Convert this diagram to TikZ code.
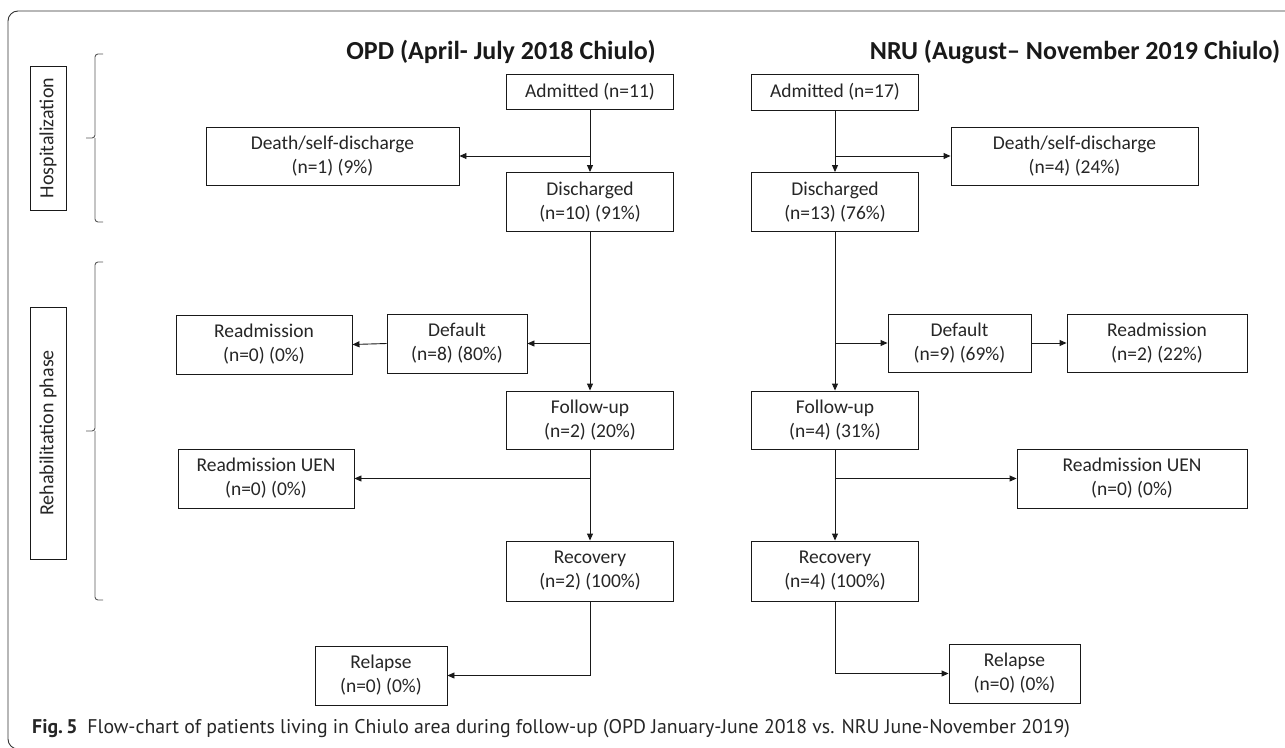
\documentclass[tikz,border=0pt]{standalone}
\usepackage{fontspec}
\setmainfont{Carlito}
\newfontfamily\capfont{PT Sans}
\usetikzlibrary{arrows.meta}
\tikzset{
  box/.style={draw=black!90, line width=0.9pt, fill=white, align=center, inner sep=0pt,
    font=\fontsize{19.5}{24}\selectfont, text=black!85},
  conn/.style={line width=0.9pt, black!90, -{Triangle[length=7pt,width=6pt]}},
  bracestyle/.style={draw=black!65, line width=0.9pt, rounded corners=3pt},
  sidelabel/.style={draw=black!90, line width=0.9pt, inner sep=0pt, rotate=90,
    font=\fontsize{20}{22}\selectfont, text=black!85, minimum height=36pt},
  titlestyle/.style={font=\bfseries\fontsize{26}{30}\selectfont, text=black!90},
}
\begin{document}
\begin{tikzpicture}[x=1pt,y=-1pt]
\useasboundingbox (0,0) rectangle (1285,747);
% frame
\draw[line width=0.9pt, black!80, rounded corners=10pt] (8,11) rectangle (1300,749);

% titles
\node[titlestyle] (t1) at (501,52) {OPD (April- July 2018 Chiulo)};
\node[titlestyle] (t2) at (1075,52) {NRU (August– November 2019 Chiulo)};

% side labels
\node[sidelabel, minimum width=144pt] (hosp) at (48,138) {Hospitalization};
\node[sidelabel, minimum width=252pt] (rehab) at (48,433) {Rehabilitation phase};
\draw[bracestyle] (103,54) -- (95,54) -- (95,138) -- (86,138) (95,138) -- (95,222) -- (103,222);
\draw[bracestyle] (103,262) -- (95,262) -- (95,431) -- (86,431) (95,431) -- (95,600) -- (103,600);

% left column (OPD)
\node[box, minimum width=167pt, minimum height=35pt] (admL) at (590,92) {Admitted (n=11)};
\node[box, minimum width=253pt, minimum height=58pt] (deathL) at (332.5,156) {Death/self-discharge\\(n=1) (9\%)};
\node[box, minimum width=167pt, minimum height=59pt] (dischL) at (590,202) {Discharged\\(n=10) (91\%)};
\node[box, minimum width=140pt, minimum height=59pt] (defL) at (457,343.5) {Default\\(n=8) (80\%)};
\node[box, minimum width=176pt, minimum height=59pt] (readL) at (264,344.5) {Readmission\\(n=0) (0\%)};
\node[box, minimum width=167pt, minimum height=58pt] (folL) at (590,420) {Follow-up\\(n=2) (20\%)};
\node[box, minimum width=176pt, minimum height=59pt] (uenL) at (266,478.5) {Readmission UEN\\(n=0) (0\%)};
\node[box, minimum width=167pt, minimum height=60pt] (recL) at (590,571) {Recovery\\(n=2) (100\%)};
\node[box, minimum width=132pt, minimum height=59pt] (relL) at (381,675.5) {Relapse\\(n=0) (0\%)};

% right column (NRU)
\node[box, minimum width=167pt, minimum height=36pt] (admR) at (835,92) {Admitted (n=17)};
\node[box, minimum width=247pt, minimum height=58pt] (deathR) at (1074.5,156) {Death/self-discharge\\(n=4) (24\%)};
\node[box, minimum width=167pt, minimum height=59pt] (dischR) at (835,202) {Discharged\\(n=13) (76\%)};
\node[box, minimum width=143pt, minimum height=58pt] (defR) at (959.5,343) {Default\\(n=9) (69\%)};
\node[box, minimum width=180pt, minimum height=58pt] (readR) at (1157,343) {Readmission\\(n=2) (22\%)};
\node[box, minimum width=167pt, minimum height=58pt] (folR) at (835,420) {Follow-up\\(n=4) (31\%)};
\node[box, minimum width=230pt, minimum height=59pt] (uenR) at (1132,478.5) {Readmission UEN\\(n=0) (0\%)};
\node[box, minimum width=167pt, minimum height=60pt] (recR) at (835,571) {Recovery\\(n=4) (100\%)};
\node[box, minimum width=131pt, minimum height=59pt] (relR) at (1014.5,673.5) {Relapse\\(n=0) (0\%)};

% connectors left
\draw[conn] (admL.south) -- (dischL.north);
\draw[conn] (admL.south |- deathL.east) -- (deathL.east);
\draw[conn] (dischL.south) -- (folL.north);
\draw[conn] (dischL.south |- defL.east) -- (defL.east);
\draw[conn] (defL.west) -- (readL.east);
\draw[conn] (folL.south) -- (recL.north);
\draw[conn] (folL.south |- uenL.east) -- (uenL.east);
\draw[conn] (recL.south) |- (relL.east);

% connectors right
\draw[conn] (admR.south) -- (dischR.north);
\draw[conn] (admR.south |- deathR.west) -- (deathR.west);
\draw[conn] (dischR.south) -- (folR.north);
\draw[conn] (dischR.south |- defR.west) -- (defR.west);
\draw[conn] (defR.east) -- (readR.west);
\draw[conn] (folR.south) -- (recR.north);
\draw[conn] (folR.south |- uenR.west) -- (uenR.west);
\draw[conn] (recR.south) |- (relR.west);

% caption
\node[anchor=west, font=\capfont\fontsize{19.8}{22}\selectfont, text=black!85, inner sep=0pt] (cap) at (32,729)
  {\textbf{Fig.\,5}\enspace Flow-chart of patients living in Chiulo area during follow-up (OPD January-June 2018 vs. NRU June-November 2019)};
\end{tikzpicture}
\end{document}
